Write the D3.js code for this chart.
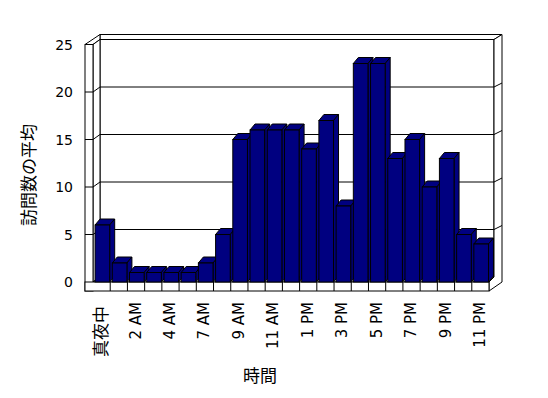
<!DOCTYPE html>
<html>
<head>
<meta charset="utf-8">
<script src="https://cdn.jsdelivr.net/npm/d3@7"></script>
<style>
  body { margin: 0; background: white; }
  text { font-family: "DejaVu Sans", sans-serif; fill: #000; }
  .cjk { font-family: "Noto Sans CJK JP", sans-serif; }
</style>
</head>
<body>
<div id="chart"></div>
<script>
// categories (hours) and average visit counts
const hours = ["真夜中", "1 AM", "2 AM", "3 AM", "4 AM", "5 AM", "7 AM", "8 AM", "9 AM", "10 AM",
  "11 AM", "正午", "1 PM", "2 PM", "3 PM", "4 PM", "5 PM", "6 PM", "7 PM", "8 PM", "9 PM", "10 PM", "11 PM"];
const avgVisits = [6, 2, 1, 1, 1, 1, 2, 5, 15, 16, 16, 16, 14, 17, 8, 23, 23, 13, 15, 10, 13, 5, 4];
const yTicks = [0, 5, 10, 15, 20, 25];
const xTitle = "時間";
const yTitle = "訪問数の平均";

let width = 548;
let height = 398;

// depth offsets for the 3d look
const wall = {dx: 7, dy: -5};    // back wall inner face
const outer = {dx: 13, dy: -10}; // back of wall slab
const bar = {dx: 5, dy: -6};     // bar depth
const side = 8;                  // left wall / floor thickness
const navy = "#000080";

let svg = d3.select('#chart')
  .append('svg')
  .attr('width', width)
  .attr('height', height)
  .style('background', 'white');

let x = d3.scaleBand()
  .domain(hours)
  .range([93, 489]);

let y = d3.scaleLinear()
  .domain([0, 25])
  .range([282, 44.5]);

const xL = x.range()[0], xR = x.range()[1];
const y0 = y(0), yT = y(25);

const frame = svg.append('g')
  .attr('fill', 'white')
  .attr('stroke', 'black')
  .attr('stroke-width', 1);

// back wall top face + inner face
frame.append('polygon')
  .attr('points', [[xL + wall.dx, yT + wall.dy], [xR + wall.dx - 2, yT + wall.dy],
    [xR + outer.dx, yT + outer.dy], [xL + wall.dx, yT + outer.dy]].join(' '));
frame.append('rect')
  .attr('x', xL + wall.dx)
  .attr('y', yT + wall.dy)
  .attr('width', xR - xL - 2)
  .attr('height', y0 - yT);

// right side of wall and floor
frame.append('polygon')
  .attr('points', [[xR + wall.dx - 2, yT + wall.dy], [xR + outer.dx, yT + outer.dy],
    [xR + outer.dx, y0], [xR, y0 + side + 1], [xR, y0], [xR + wall.dx - 2, y0 + wall.dy]].join(' '));

// left wall: top, inner face, front face
frame.append('polygon')
  .attr('points', [[xL - side, yT], [xL, yT], [xL + wall.dx, yT + wall.dy], [xL + wall.dx, yT + outer.dy]].join(' '));
frame.append('polygon')
  .attr('points', [[xL, yT], [xL + wall.dx, yT + wall.dy], [xL + wall.dx, y0 + wall.dy], [xL, y0]].join(' '));
frame.append('rect')
  .attr('x', xL - side)
  .attr('y', yT)
  .attr('width', side)
  .attr('height', y0 - yT + side + 1);

// floor top and front face
frame.append('polygon')
  .attr('points', [[xL, y0], [xR, y0], [xR + wall.dx - 2, y0 + wall.dy], [xL + wall.dx, y0 + wall.dy]].join(' '));
frame.append('rect')
  .attr('x', xL - side)
  .attr('y', y0)
  .attr('width', xR - xL + side)
  .attr('height', side + 1);

// category dividers on floor front
hours.forEach((h, i) => {
  if (i == 0) return;
  frame.append('line')
    .attr('x1', x(h)).attr('x2', x(h))
    .attr('y1', y0).attr('y2', y0 + side + 1);
});

// gridlines running over left wall, back wall and right edge
yTicks.filter(v => v > 0 && v < 25).forEach(v => {
  const yy = y(v);
  svg.append('polyline')
    .attr('points', [[xL - side, yy], [xL, yy], [xL + wall.dx, yy + wall.dy],
      [xR + wall.dx - 2, yy + wall.dy], [xR + outer.dx, yy + outer.dy + 1]].join(' '))
    .attr('fill', 'none')
    .attr('stroke', 'black');
});

// y tick labels
svg.selectAll('.ylab')
  .data(yTicks)
  .enter()
  .append('text')
  .attr('x', 73)
  .attr('y', d => y(d))
  .attr('dy', '0.36em')
  .attr('text-anchor', 'end')
  .attr('font-size', 14)
  .text(d => d);

// bars: front, top, side
const bw = x.bandwidth() * 0.85;
const bo = x.bandwidth() * 0.12;
const bars = svg.selectAll('.bar')
  .data(avgVisits)
  .enter()
  .append('g')
  .attr('fill', navy)
  .attr('stroke', 'black')
  .attr('stroke-width', 1);

bars.append('polygon')
  .attr('points', (d, i) => {
    const a = x(hours[i]) + bo, b = a + bw, t = y(d);
    return [[a, t], [b, t], [b + bar.dx, t + bar.dy], [a + bar.dx, t + bar.dy]].join(' ');
  });
bars.append('polygon')
  .attr('points', (d, i) => {
    const b = x(hours[i]) + bo + bw, t = y(d);
    return [[b, t], [b + bar.dx, t + bar.dy], [b + bar.dx, y0 + bar.dy], [b, y0]].join(' ');
  });
bars.append('rect')
  .attr('x', (d, i) => x(hours[i]) + bo)
  .attr('y', d => y(d))
  .attr('width', bw)
  .attr('height', d => y0 - y(d));

// x labels, every other hour, rotated
const latin = d => /[A-Z]/.test(d);
svg.selectAll('.xlab')
  .data(hours.filter((h, i) => i % 2 == 0))
  .enter()
  .append('text')
  .attr('class', d => latin(d) ? null : 'cjk')
  .attr('font-size', d => latin(d) ? 15 : 17)
  .attr('text-anchor', 'end')
  .attr('transform', d => {
    const fs = latin(d) ? 15 : 17;
    const bx = Math.round(x(d) + x.bandwidth() / 2 - 1 + 0.37 * fs);
    return `translate(${bx}, ${latin(d) ? 302 : 306}) rotate(-90)`;
  })
  .text(d => d);

// axis titles
svg.append('text')
  .attr('class', 'cjk')
  .attr('x', 260)
  .attr('y', 376)
  .attr('dy', '0.36em')
  .attr('text-anchor', 'middle')
  .attr('font-size', 17)
  .text(xTitle);

svg.append('text')
  .attr('class', 'cjk')
  .attr('transform', 'translate(35, 175) rotate(-90)')
  .attr('text-anchor', 'middle')
  .attr('font-size', 17)
  .text(yTitle);
</script>
</body>
</html>
